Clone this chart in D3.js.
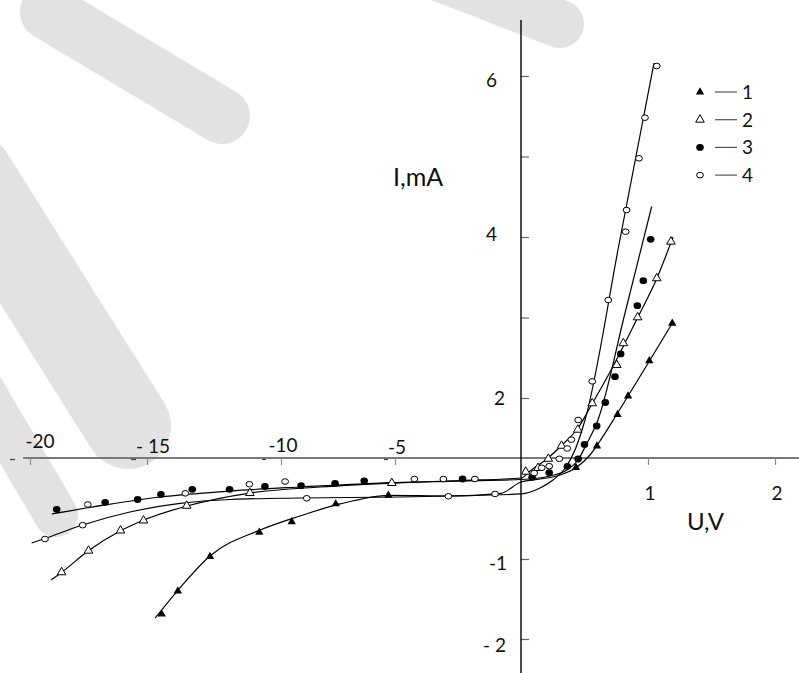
<!DOCTYPE html>
<html>
<head>
<meta charset="utf-8">
<script src="https://cdn.jsdelivr.net/npm/d3@7"></script>
<style>
  html, body { margin: 0; padding: 0; background: #fff; }
  svg { display: block; }
</style>
</head>
<body>
<script>
// ---- data: voltage U (V) and current I (mA) ----
// Axis break points: the axes are drawn in uneven segments
const uBreaks = [-20, -15, -10, -5, 0, 1, 2];
const iBreaks = [-2, -1, 0, 2, 6];

const uTickValues = [-20, -15, -10, -5, 1, 2];
const uTickLabels = ["-20", "- 15", "-10", "-5", "1", "2"];
const iTickValues = [-2, -1, 2, 3, 4, 5, 6];
const iTickLabels = ["- 2", "-1", "2", "", "4", "", "6"];

const seriesNames = ["1", "2", "3", "4"];

// measured points [U, I]
const s1Points = [[-14.45,-1.69],[-13.85,-1.40],[-12.65,-0.977],[-10.81,-0.736],[-9.53,-0.631],[-7.60,-0.455],[-5.29,-0.369],
  [0.433,-0.094],[0.598,0.40],[0.760,1.45],[0.843,2.025],[1.010,2.463],[1.191,2.928]];
const s2Points = [[-18.65,-1.166],[-17.50,-0.918],[-16.13,-0.718],[-15.15,-0.619],[-13.52,-0.473],[-11.16,-0.347],[-5.14,-0.248],
  [0.037,-0.136],[0.134,-0.099],[0.215,-0.008],[0.319,0.407],[0.447,0.943],[0.561,1.823],[0.754,2.410],[0.806,2.680],
  [0.919,3.002],[1.069,3.487],[1.181,3.942]];
const s3Points = [[-18.86,-0.508],[-16.79,-0.439],[-15.40,-0.411],[-14.48,-0.361],[-13.31,-0.310],[-11.92,-0.310],[-10.60,-0.282],
  [-9.12,-0.274],[-7.63,-0.252],[-6.35,-0.226],[-2.32,-0.208],[0.087,-0.191],[0.222,-0.146],[0.365,-0.082],[0.450,-0.010],
  [0.500,0.45],[0.596,1.067],[0.664,1.85],[0.740,2.265],[0.785,2.547],[0.916,3.147],[0.963,3.457],[1.021,3.971]];
const s4Points = [[-19.36,-0.802],[-17.75,-0.665],[-17.53,-0.460],[-13.57,-0.350],[-11.18,-0.260],[-9.82,-0.233],[-8.87,-0.399],
  [-4.23,-0.208],[-3.08,-0.208],[-2.88,-0.379],[-1.83,-0.208],[-1.03,-0.356],[0.104,-0.149],[0.163,-0.097],[0.222,-0.081],
  [0.302,-0.008],[0.364,0.317],[0.396,0.61],[0.450,1.267],[0.561,2.207],[0.687,3.217],[0.824,4.066],[0.831,4.335],
  [0.929,4.978],[0.976,5.482],[1.069,6.124]];

// fitted curves [U, I]
const s1Fit = [[-14.70,-1.74],[-13.77,-1.36],[-12.65,-0.97],[-10.78,-0.713],[-9.17,-0.574],[-7.41,-0.455],[-5.22,-0.370],
  [-2.82,-0.376],[-0.80,-0.350],[0,-0.238],[0.150,-0.208],[0.283,-0.178],[0.441,-0.089],[0.543,0.10],[0.606,0.467],
  [0.756,1.467],[0.843,2.025],[1.016,2.472],[1.197,2.944]];
const s2Fit = [[-19.10,-1.263],[-18.63,-1.163],[-17.52,-0.921],[-16.15,-0.723],[-15.13,-0.614],[-13.51,-0.475],[-11.16,-0.347],
  [-8.29,-0.287],[-5.13,-0.248],[-2.42,-0.223],[0,-0.198],[0.071,-0.129],[0.213,0],[0.323,0.433],[0.449,1.0],[0.559,1.8],
  [0.701,2.323],[0.921,3.006],[1.071,3.491],[1.197,4.0]];
const s3Fit = [[-19.06,-0.554],[-16.79,-0.465],[-14.51,-0.386],[-11.90,-0.327],[-9.17,-0.287],[-5.66,-0.248],[-2.42,-0.228],
  [0,-0.213],[0.228,-0.178],[0.362,-0.119],[0.449,-0.020],[0.512,0.433],[0.606,1.267],[0.819,3.056],[1.029,4.379]];
const s4Fit = [[-19.93,-0.842],[-19.36,-0.797],[-17.75,-0.663],[-15.73,-0.535],[-13.77,-0.450],[-11.90,-0.411],[-9.17,-0.396],
  [-4.80,-0.386],[-2.82,-0.376],[0,-0.356],[0.150,-0.297],[0.252,-0.218],[0.354,-0.089],[0.425,0.267],[0.504,1.267],
  [0.776,3.944],[1.047,6.161]];

// ---- drawing ----
const W = 799, H = 673;
const FONT = "Lato, 'Open Sans', sans-serif";

const svg = d3.select("body").append("svg")
  .attr("width", W).attr("height", H)
  .attr("viewBox", `0 0 ${W} ${H}`);

// pale background strokes of the page decoration
const decoStrokes = [
  { pts: [[48, 12], [222, 116]], w: 56 },
  { pts: [[-30, 175], [128, 426]], w: 86 },
  { pts: [[-60, 318], [56, 515]], w: 44 },
  { pts: [[420, -30], [560, 24]], w: 48 }
];
svg.append("g").selectAll("path").data(decoStrokes).enter().append("path")
  .attr("d", d => d3.line()(d.pts))
  .attr("fill", "none").attr("stroke", "#e2e2e2")
  .attr("stroke-width", d => d.w).attr("stroke-linecap", "round");

const x = d3.scaleLinear().domain(uBreaks).range([30, 147, 281, 395, 521, 648, 775]);
const y = d3.scaleLinear().domain(iBreaks).range([639, 559, 458, 398, 76]);

// horizontal axis (I = 0)
const gx = svg.append("g").attr("transform", `translate(0,${y(0)})`);
gx.call(d3.axisBottom(x).tickValues(uTickValues).tickSize(7).tickSizeOuter(0).tickFormat(""));
gx.select(".domain").remove();
gx.append("line").attr("x1", 23).attr("x2", W).attr("y1", 0).attr("y2", 0)
  .attr("stroke", "#7a7a7a").attr("stroke-width", 2);
gx.selectAll(".tick line").attr("stroke", "#8a8a8a").attr("stroke-width", 1.2).attr("y1", 1);
// small dashes sitting to the left of the negative ticks
gx.selectAll(".dash").data(uTickValues.filter(v => v < 0)).enter().append("line")
  .attr("x1", (d, i) => x(d) - [20, 16, 19, 11][i])
  .attr("x2", (d, i) => x(d) - [15, 11, 15, 7][i])
  .attr("y1", 1.5).attr("y2", 1.5)
  .attr("stroke", "#444").attr("stroke-width", 1.3);

// tick labels on the U axis
const uLabelOffset = [[10, 448], [6, 453], [2, 452], [2, 454], [2, 500], [2, 500]];
svg.append("g").selectAll("text").data(uTickValues).enter().append("text")
  .attr("x", (d, i) => x(d) + uLabelOffset[i][0])
  .attr("y", (d, i) => uLabelOffset[i][1])
  .attr("text-anchor", "middle")
  .attr("font-family", FONT).attr("font-size", 19).attr("fill", "#111")
  .style("white-space", "pre")
  .text((d, i) => uTickLabels[i]);

// vertical axis (U = 0)
const gy = svg.append("g").attr("transform", `translate(${x(0)},0)`);
gy.call(d3.axisRight(y).tickValues(iTickValues).tickSize(8).tickSizeOuter(0).tickFormat(""));
gy.select(".domain").remove();
gy.selectAll(".tick line").attr("stroke", "#666").attr("stroke-width", 1.2);
gy.append("line").attr("x1", 0).attr("x2", 0).attr("y1", 20).attr("y2", H)
  .attr("stroke", "#000").attr("stroke-width", 1.4);

const iLabelPos = { "- 2": [506, 652], "-1": [507, 570], "2": [505, 405], "4": [497, 241], "6": [497, 87] };
svg.append("g").selectAll("text").data(iTickLabels.filter(t => t !== "")).enter().append("text")
  .attr("x", d => iLabelPos[d][0]).attr("y", d => iLabelPos[d][1])
  .attr("text-anchor", "end")
  .attr("font-family", FONT).attr("font-size", 19).attr("fill", "#111")
  .style("white-space", "pre")
  .text(d => d);

// axis titles
svg.append("text").attr("x", 393).attr("y", 186)
  .attr("font-family", FONT).attr("font-size", 25).attr("fill", "#111").text("I,mA");
svg.append("text").attr("x", 687).attr("y", 530)
  .attr("font-family", FONT).attr("font-size", 24).attr("fill", "#111").text("U,V");

// fitted curves
const line = d3.line().x(d => x(d[0])).y(d => y(d[1])).curve(d3.curveMonotoneX);
const fits = [s1Fit, s2Fit, s3Fit, s4Fit];
svg.append("g").selectAll("path").data(fits).enter().append("path")
  .attr("d", line).attr("fill", "none").attr("stroke", "#000").attr("stroke-width", 1.2);

// markers
const triFilled = d3.symbol(d3.symbolTriangle, 30)();
const triOpen = d3.symbol(d3.symbolTriangle, 32)();

function drawMarker(sel, kind) {
  if (kind === 0) {
    sel.append("path").attr("d", triFilled).attr("fill", "#000");
  } else if (kind === 1) {
    sel.append("path").attr("d", triOpen).attr("fill", "#fff").attr("stroke", "#000").attr("stroke-width", 1);
  } else if (kind === 2) {
    sel.append("ellipse").attr("rx", 3.8).attr("ry", 3.4).attr("fill", "#000");
  } else {
    sel.append("ellipse").attr("rx", 3.4).attr("ry", 2.8).attr("fill", "#fff").attr("stroke", "#000").attr("stroke-width", 1);
  }
}

const allPoints = [s1Points, s2Points, s3Points, s4Points];
allPoints.forEach((pts, k) => {
  svg.append("g").selectAll("g").data(pts).enter().append("g")
    .attr("transform", d => `translate(${x(d[0])},${y(d[1])})`)
    .each(function () { drawMarker(d3.select(this), k); });
});

// legend
const legend = svg.append("g");
seriesNames.forEach((name, k) => {
  const yy = 92 + k * 27.7;
  drawMarker(legend.append("g").attr("transform", `translate(700,${yy})`), k);
  legend.append("line").attr("x1", 715).attr("x2", 737).attr("y1", yy).attr("y2", yy)
    .attr("stroke", "#555").attr("stroke-width", 1.2);
  legend.append("text").attr("x", 742).attr("y", yy + 7)
    .attr("font-family", FONT).attr("font-size", 19).attr("fill", "#111").text(name);
});
</script>
</body>
</html>
